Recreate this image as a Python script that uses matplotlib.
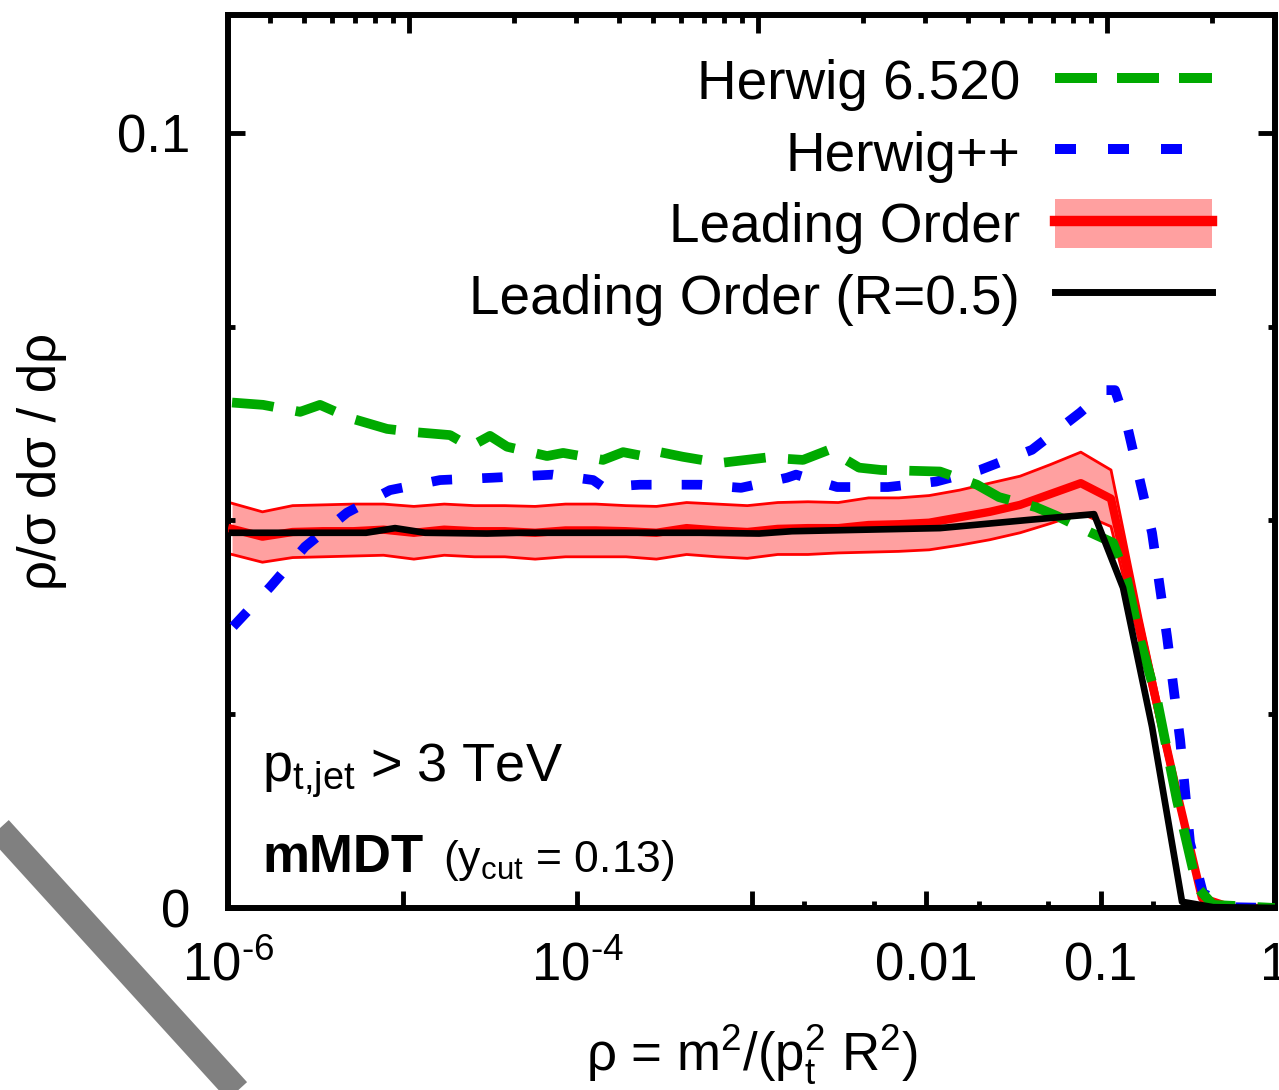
import numpy as np
import matplotlib
matplotlib.use('Agg')
import matplotlib.pyplot as plt
from matplotlib.patches import Patch
from matplotlib.lines import Line2D
from matplotlib.ticker import FixedLocator, FixedFormatter, NullFormatter, LogLocator

plt.rcParams['font.family'] = ['Liberation Sans', 'DejaVu Sans']
plt.rcParams['mathtext.fontset'] = 'custom'
plt.rcParams['mathtext.rm'] = 'Liberation Sans'
plt.rcParams['mathtext.it'] = 'Liberation Sans:italic'
plt.rcParams['mathtext.bf'] = 'Liberation Sans:bold'

# --- data (x given as log10(rho)) ---
# leading order, with uncertainty band
lo_logrho = [-5.977, -5.803, -5.630, -5.456, -5.282, -5.109, -4.935, -4.761, -4.587,
             -4.414, -4.240, -4.066, -3.893, -3.719, -3.545, -3.372, -3.198, -3.024,
             -2.850, -2.677, -2.503, -2.329, -2.156, -1.982, -1.808, -1.635, -1.461,
             -1.287, -1.113, -0.940, -0.766, -0.592, -0.419, -0.245, -0.071]
lo_mid = [0.0489, 0.0479, 0.0485, 0.0486, 0.0486, 0.0488, 0.0484, 0.0488, 0.0486,
          0.0486, 0.0484, 0.0487, 0.0487, 0.0486, 0.0484, 0.0490, 0.0487, 0.0485,
          0.0489, 0.0490, 0.0490, 0.0494, 0.0495, 0.0497, 0.0504, 0.0511, 0.0520,
          0.0534, 0.0548, 0.0528, 0.0352, 0.0178, 0.0013, 0.0, 0.0]
lo_hi = [0.0522, 0.0511, 0.0519, 0.0520, 0.0521, 0.0521, 0.0518, 0.0521, 0.0519,
         0.0519, 0.0518, 0.0521, 0.0521, 0.0519, 0.0518, 0.0523, 0.0521, 0.0519,
         0.0523, 0.0524, 0.0523, 0.0529, 0.0529, 0.0532, 0.0539, 0.0548, 0.0557,
         0.0572, 0.0588, 0.0565, 0.0372, 0.0191, 0.0017, 0.0, 0.0]
lo_lo = [0.0456, 0.0446, 0.0452, 0.0453, 0.0454, 0.0455, 0.0450, 0.0455, 0.0453,
         0.0453, 0.0450, 0.0453, 0.0453, 0.0453, 0.0450, 0.0456, 0.0453, 0.0451,
         0.0456, 0.0456, 0.0458, 0.0459, 0.0460, 0.0462, 0.0468, 0.0475, 0.0484,
         0.0496, 0.0509, 0.0492, 0.0333, 0.0165, 0.0004, 0.0, 0.0]

# leading order, R=0.5
r05_logrho = [-5.977, -5.209, -5.043, -4.871, -4.516, -4.327, -3.295, -2.957, -2.768,
              -1.920, -1.393, -1.037, -0.871, -0.705, -0.533, -0.355, 0.0]
r05_val = [0.0484, 0.0484, 0.0490, 0.0484, 0.0483, 0.0484, 0.0484, 0.0483, 0.0486,
           0.0490, 0.0501, 0.0508, 0.0413, 0.0234, 0.0008, 0.0001, 0.0]

# Herwig 6.520
h6_logrho = [-5.977, -5.799, -5.587, -5.473, -5.301, -5.089, -4.940, -4.728, -4.613,
             -4.499, -4.401, -4.172, -4.080, -3.851, -3.736, -3.599, -3.524, -3.393,
             -3.181, -2.917, -2.705, -2.556, -2.384, -2.258, -1.920, -1.708, -1.582,
             -1.370, -1.244, -1.054, -0.928, -0.848, -0.774, -0.676, -0.562, -0.447,
             -0.355, 0.0]
h6_val = [0.0652, 0.0649, 0.0640, 0.0649, 0.0632, 0.0618, 0.0614, 0.0610, 0.0595,
          0.0609, 0.0595, 0.0583, 0.0587, 0.0578, 0.0588, 0.0582, 0.0588, 0.0582,
          0.0574, 0.0581, 0.0578, 0.0591, 0.0568, 0.0565, 0.0563, 0.0546, 0.0530,
          0.0517, 0.0505, 0.0484, 0.0471, 0.0423, 0.0346, 0.0268, 0.0139, 0.0027,
          0.0004, 0.0]

# Herwig++
hpp_logrho = [-5.971, -5.759, -5.559, -5.318, -5.072, -4.785, -4.487, -4.138, -3.908,
              -3.851, -3.639, -3.295, -3.060, -2.797, -2.745, -2.510, -2.218, -1.943,
              -1.691, -1.393, -1.117, -0.968, -0.917, -0.842, -0.705, -0.619, -0.544,
              -0.487, -0.413, -0.241, 0.0]
hpp_val = [0.0363, 0.0414, 0.0466, 0.0510, 0.0539, 0.0552, 0.0555, 0.0559, 0.0552,
           0.0543, 0.0546, 0.0546, 0.0542, 0.0555, 0.0559, 0.0543, 0.0543, 0.0550,
           0.0565, 0.0591, 0.0639, 0.0668, 0.0668, 0.0617, 0.0484, 0.0350, 0.0217,
           0.0084, 0.0019, 0.0001, 0.0]

x_major = [1e-6, 1e-5, 1e-4, 1e-3, 1e-2, 1e-1, 1.0]
x_labels = ['$\\mathregular{10^{\\text{-}6}}$', '', '$\\mathregular{10^{\\text{-}4}}$',
            '', '0.01', '0.1', '1']
x_minor = [2e-3, 5e-3, 2e-2, 5e-2, 0.2, 0.5]

# top axis: jet mass scale m = M_SCALE * sqrt(rho)
M_SCALE = 3030.0

GREEN = '#00aa00'
BLUE = '#0000ff'
RED = '#ff0000'
BAND = '#ffa0a0'

rect = [0.1783, 0.1670, 0.8186, 0.8193]
fig = plt.figure(figsize=(12.79, 10.90), dpi=100)
ax = fig.add_axes(rect)

lo_x = 10 ** np.array(lo_logrho)
ax.fill_between(lo_x, lo_lo, lo_hi, color=BAND, lw=0, zorder=1)
ax.plot(lo_x, lo_hi, color=RED, lw=2, zorder=2)
ax.plot(lo_x, lo_lo, color=RED, lw=2, zorder=2)
ax.plot(lo_x, lo_mid, color=RED, lw=6, zorder=3)
ax.plot(10 ** np.array(hpp_logrho), hpp_val, color=BLUE, lw=7,
        dashes=(2.1, 3.1), zorder=4)
ax.plot(10 ** np.array(h6_logrho), h6_val, color=GREEN, lw=7,
        dashes=(4.3, 2.3), zorder=5)
ax.plot(10 ** np.array(r05_logrho), r05_val, color='black', lw=4.8, zorder=6)

ax.set_xscale('log')
ax.set_xlim(1e-6, 1)
ax.set_ylim(0, 0.1152)

ax.xaxis.set_major_locator(FixedLocator(x_major))
ax.xaxis.set_major_formatter(FixedFormatter(x_labels))
ax.xaxis.set_minor_locator(FixedLocator(x_minor))
ax.xaxis.set_minor_formatter(NullFormatter())
ax.yaxis.set_major_locator(FixedLocator([0, 0.1]))
ax.yaxis.set_major_formatter(FixedFormatter(['0', '0.1']))
ax.yaxis.set_minor_locator(FixedLocator([0.025, 0.05, 0.075]))

ax.tick_params(which='both', direction='in', width=3.5, labelsize=38)
ax.tick_params(axis='x', which='both', top=False, bottom=True, pad=24)
ax.tick_params(axis='y', which='both', left=True, right=True, pad=27)
ax.tick_params(which='major', length=12.5)
ax.tick_params(which='minor', length=5)
for s in ax.spines.values():
    s.set_linewidth(4.3)

ax.set_xlabel('ρ = m$^{\\mathregular{2}}$/(p$_{\\mathregular{t}}^{\\mathregular{2}}$ R$^{\\mathregular{2}}$)',
              fontsize=38, labelpad=22)
ax.set_ylabel('ρ/σ dσ / dρ', fontsize=38, labelpad=36)

ax.text(0.0325, 0.141, 'p$_{\\mathregular{t{,}jet}}$ > 3 TeV', transform=ax.transAxes,
        fontsize=39, va='baseline')
t1 = ax.text(0.0325, 0.0403, 'mMDT', transform=ax.transAxes, fontsize=38,
             fontweight='bold', va='baseline')
ax.annotate('(y$_{\\mathregular{cut}}$ = 0.13)', xy=(1, 0), xycoords=t1,
            xytext=(14, 0), textcoords='offset points', fontsize=32, va='bottom')

handles = [Line2D([], [], color=GREEN, lw=7.2, dashes=(4.2, 2.0)),
           Line2D([], [], color=BLUE, lw=7.2, dashes=(2.1, 3.2)),
           (Patch(facecolor=BAND, edgecolor='none'), Line2D([], [], color=RED, lw=7.5)),
           Line2D([], [], color='black', lw=5)]
labels = ['Herwig 6.520', 'Herwig++', 'Leading Order', 'Leading Order (R=0.5)']
ax.legend(handles, labels, loc='upper right', bbox_to_anchor=(0.940, 0.954),
          frameon=False, markerfirst=False, fontsize=39.5, borderpad=0,
          borderaxespad=0, handlelength=2.86, handletextpad=0.64,
          labelspacing=0.294, handleheight=1.0)

# top axis (jet mass): separate overlay axes with unlabeled log ticks
top = fig.add_axes(rect, frameon=False, label='mass')
top.set_xscale('log')
top.set_xlim(M_SCALE * 1e-3, M_SCALE)
top.yaxis.set_visible(False)
top.patch.set_visible(False)
top.xaxis.tick_top()
top.xaxis.set_major_locator(LogLocator(base=10))
top.xaxis.set_minor_locator(LogLocator(base=10, subs=np.arange(2, 10)))
top.xaxis.set_major_formatter(NullFormatter())
top.xaxis.set_minor_formatter(NullFormatter())
top.tick_params(which='both', direction='in', width=3.5, color='black')
top.tick_params(which='major', length=13)
top.tick_params(which='minor', length=6)

# grey diagonal stroke in the lower-left corner
fig.add_artist(Line2D([-0.0100, 0.2090], [0.2514, -0.0312], color='#808080',
                      lw=19, solid_capstyle='butt'))

fig.savefig('out.png', dpi=100)
